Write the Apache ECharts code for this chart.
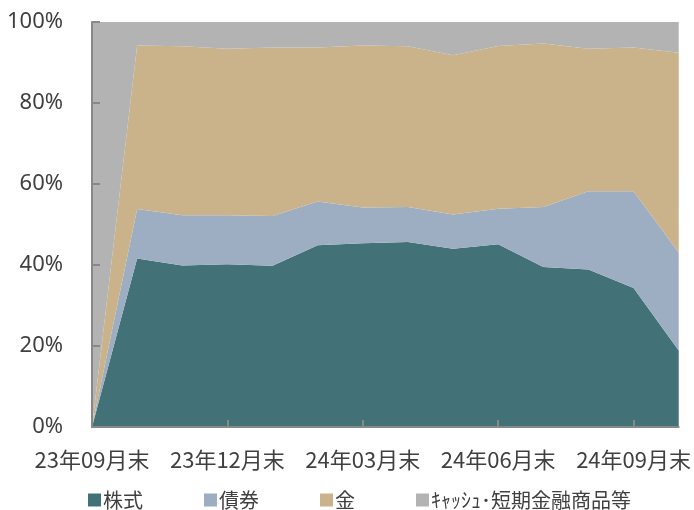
<!DOCTYPE html>
<html>
<head>
<meta charset="utf-8">
<script src="https://cdn.jsdelivr.net/npm/echarts@6/dist/echarts.min.js"></script>
<style>html,body{margin:0;padding:0;background:#fff;}#c{width:694px;height:510px;}</style>
</head>
<body>
<div id="c"></div>
<script>
const categories = ['23年09月末','23年10月末','23年11月末','23年12月末','24年01月末','24年02月末','24年03月末','24年04月末','24年05月末','24年06月末','24年07月末','24年08月末','24年09月末','24年10月末'];
const stock = [0, 41.6, 39.9, 40.2, 39.8, 44.9, 45.4, 45.7, 44.0, 45.1, 39.5, 38.9, 34.3, 18.9];
const bond  = [0, 12.2, 12.4, 12.1, 12.3, 10.8, 8.8, 8.6, 8.5, 8.8, 14.8, 19.3, 23.9, 24.2];
const gold  = [0, 40.4, 41.7, 41.1, 41.6, 38.0, 40.0, 39.7, 39.3, 40.2, 40.4, 35.2, 35.5, 49.3];
const cash  = [100, 5.8, 6.0, 6.6, 6.3, 6.3, 5.8, 6.0, 8.2, 5.9, 5.3, 6.6, 6.3, 7.6];
const seriesNames = ['株式','債券','金','ｷｬｯｼｭ･短期金融商品等'];
const colors = ['#427278','#9DAEC3','#CAB38A','#B3B3B3'];
const yTicks = [0,20,40,60,80,100];

const chart = echarts.init(document.getElementById('c'));
const font = '"Noto Sans CJK JP","Noto Sans",sans-serif';
function mk(name, data, color){
  return {name, type:'line', stack:'total', data, symbol:'none',
    lineStyle:{width:0}, areaStyle:{color, opacity:1}, itemStyle:{color}, z:2};
}
chart.setOption({
  animation:false,
  grid:{left:92,right:11,top:22,bottom:83},
  legend:{
    left:83, top:485, icon:'rect', itemWidth:13, itemHeight:13, itemGap:61,
    textStyle:{fontSize:20, color:'#404040', fontFamily:font, padding:[0,0,0,-3]},
    data:seriesNames
  },
  xAxis:{
    type:'category', data:categories, boundaryGap:false, z:10,
    axisLine:{lineStyle:{color:'#888', width:2}},
    axisTick:{inside:true, length:7, interval:2, lineStyle:{color:'#888', width:2}},
    axisLabel:{interval:2, fontSize:22, color:'#404040', fontFamily:font, margin:22}
  },
  yAxis:{
    type:'value', min:yTicks[0], max:yTicks[yTicks.length-1], interval:20, z:10,
    axisLine:{show:true, lineStyle:{color:'#888', width:2}},
    axisTick:{show:true, inside:true, length:8, lineStyle:{color:'#888', width:2}},
    splitLine:{show:false},
    axisLabel:{formatter:'{value}%', fontSize:22, color:'#404040', fontFamily:'"Noto Sans",sans-serif', margin:29}
  },
  series:[mk(seriesNames[0],stock,colors[0]), mk(seriesNames[1],bond,colors[1]), mk(seriesNames[2],gold,colors[2]), mk(seriesNames[3],cash,colors[3])]
});
</script>
</body>
</html>
